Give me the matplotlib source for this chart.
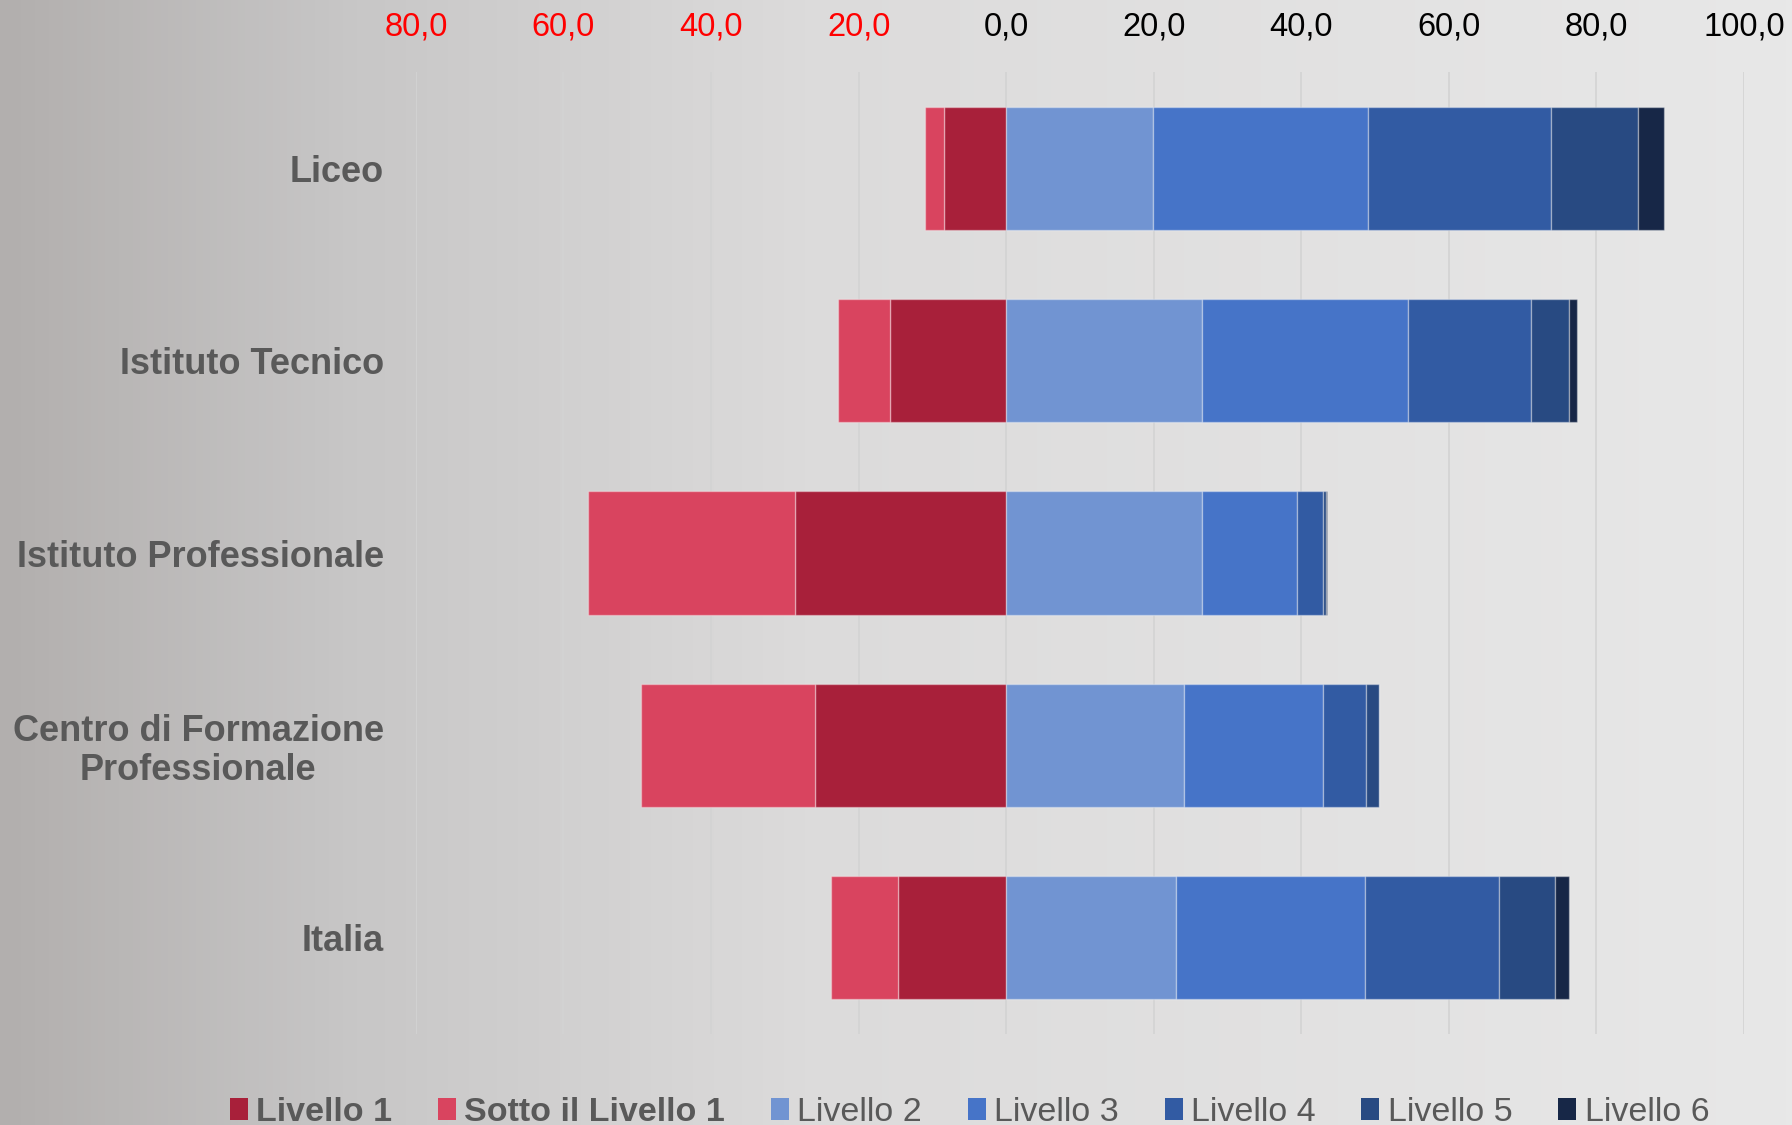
import matplotlib.pyplot as plt
import numpy as np
from matplotlib.colors import LinearSegmentedColormap
from matplotlib.patches import Patch

plt.rcParams['font.family'] = ['Liberation Sans', 'DejaVu Sans']

categories = ["Liceo", "Istituto Tecnico", "Istituto Professionale",
              "Centro di Formazione\nProfessionale", "Italia"]

# percentages per level (left side drawn as negatives)
livello1 = [8.4, 15.7, 28.6, 25.9, 14.7]
sotto_livello1 = [2.6, 7.1, 28.1, 23.6, 9.1]
livello2 = [19.9, 26.5, 26.5, 24.1, 23.0]
livello3 = [29.1, 27.9, 12.9, 18.8, 25.6]
livello4 = [24.9, 16.8, 3.5, 5.9, 18.2]
livello5 = [11.8, 5.1, 0.5, 1.7, 7.6]
livello6 = [3.4, 1.1, 0.1, 0.1, 1.9]

x_ticks = [-80, -60, -40, -20, 0, 20, 40, 60, 80, 100]

neg_series = [("Livello 1", livello1, "#a8203a"),
              ("Sotto il Livello 1", sotto_livello1, "#d9445f")]
pos_series = [("Livello 2", livello2, "#7194d2"),
              ("Livello 3", livello3, "#4674c8"),
              ("Livello 4", livello4, "#325ba3"),
              ("Livello 5", livello5, "#284a82"),
              ("Livello 6", livello6, "#172747")]

fig = plt.figure(figsize=(17.92, 11.25), dpi=100)

# background gradient, darker on the left
bg = fig.add_axes([0, 0, 1, 1], zorder=-10)
cmap = LinearSegmentedColormap.from_list(
    "bg", [(0.0, "#b2afae"), (0.2, "#c8c7c7"), (0.45, "#dcdbdb"), (1.0, "#e8e8e8")])
bg.imshow(np.linspace(0, 1, 512)[None, :], cmap=cmap, aspect="auto",
          extent=[0, 1, 0, 1])
bg.set_axis_off()

ax = fig.add_axes([0.2321, 0.0809, 0.7411, 0.855])
ax.set_facecolor("none")

y = np.arange(len(categories))
edge = (1, 1, 1, 0.35)
bar_h = 0.64

handles = []
left = np.zeros(len(categories))
for name, vals, col in neg_series:
    v = np.array(vals)
    ax.barh(y, -v, left=-left, height=bar_h, color=col, edgecolor=edge,
            linewidth=1, zorder=3)
    left += v
    handles.append(Patch(facecolor=col, label=name))

left = np.zeros(len(categories))
for name, vals, col in pos_series:
    v = np.array(vals)
    ax.barh(y, v, left=left, height=bar_h, color=col, edgecolor=edge,
            linewidth=1, zorder=3)
    left += v
    handles.append(Patch(facecolor=col, label=name))

ax.set_xlim(-80, 100)
ax.set_ylim(len(categories) - 0.5, -0.5)
ax.set_xticks(x_ticks)
ax.set_xticklabels([f"{abs(t):.1f}".replace(".", ",") for t in x_ticks])
ax.xaxis.tick_top()
ax.tick_params(axis="x", length=0, pad=21, labelsize=23.5)
for lbl, t in zip(ax.get_xticklabels(), x_ticks):
    lbl.set_color("#ff0000" if t < 0 else "#000000")

ax.set_yticks(y)
ax.set_yticklabels(categories)
ax.tick_params(axis="y", length=0, pad=23, labelsize=26, labelcolor="#595959")
for lbl in ax.get_yticklabels():
    lbl.set_fontweight("bold")
    lbl.set_multialignment("center")
    lbl.set_linespacing(1.15)

ax.grid(axis="x", color="#d3d3d3", linewidth=1.2, zorder=0)
ax.set_axisbelow(True)
for s in ax.spines.values():
    s.set_visible(False)

leg = fig.legend(handles=handles, loc="center", bbox_to_anchor=(0.541, 0.011),
                 ncol=7, frameon=False, fontsize=24.5, handlelength=0.53,
                 handleheight=0.6, handletextpad=0.25, columnspacing=1.34,
                 borderpad=0, borderaxespad=0)
for i, txt in enumerate(leg.get_texts()):
    txt.set_color("#595959")
    if i < 2:
        txt.set_fontweight("bold")

fig.savefig("out.png", dpi=100)
